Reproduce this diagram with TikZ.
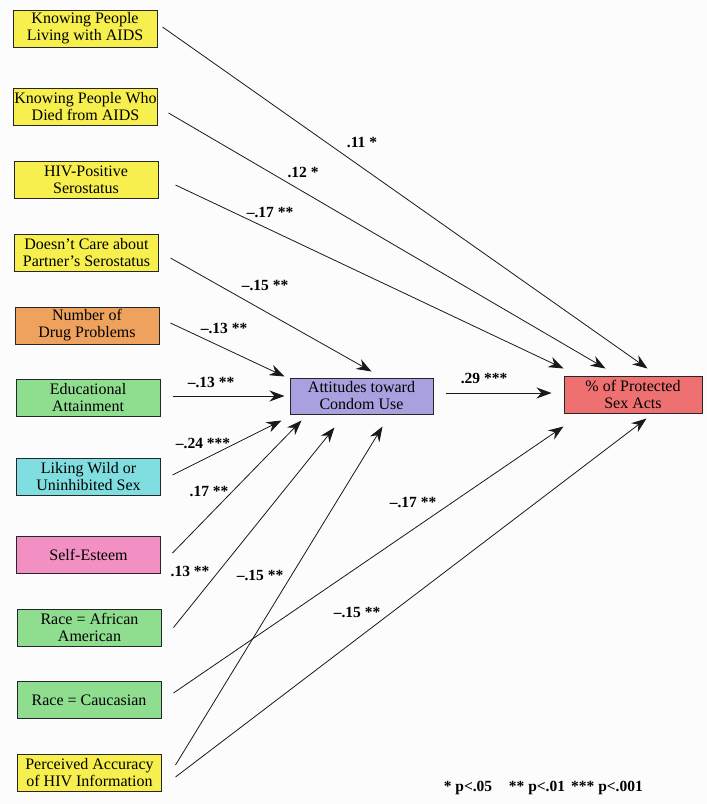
\documentclass[tikz,border=0pt]{standalone}
\usepackage{fontspec}
\setmainfont{Liberation Serif}
\usetikzlibrary{arrows.meta,calc}
\definecolor{cyel}{HTML}{F6EF4E}
\definecolor{cora}{HTML}{EFA25E}
\definecolor{cgrn}{HTML}{8FDE90}
\definecolor{ccya}{HTML}{80DEE0}
\definecolor{cpnk}{HTML}{F290C4}
\definecolor{clav}{HTML}{A9A0E0}
\definecolor{cred}{HTML}{EF7070}
\definecolor{cbg}{HTML}{FCFCFC}
\begin{document}
\begin{tikzpicture}[x=1pt,y=-1pt,
  box/.style={draw=black!85,line width=1pt,minimum width=144pt,minimum height=37pt,inner sep=0.5pt,align=center,font=\fontsize{16}{17}\selectfont},
  lab/.style={font=\fontsize{15.5}{17}\selectfont\bfseries,inner sep=0pt},
  arr/.style={line width=0.8pt,draw=black!90,-{Stealth[length=15pt,width=11pt]}},
]
\path[use as bounding box,fill=cbg] (0,0) rectangle (707,804);

% left boxes
\node[box,fill=cyel] (b1) at (85,28.5) {Knowing People\\Living with AIDS};
\node[box,fill=cyel] (b2) at (85.5,107) {Knowing People Who\\Died from AIDS};
\node[box,fill=cyel] (b3) at (86,180) {HIV-Positive\\Serostatus};
\node[box,fill=cyel] (b4) at (86.5,252.5) {Doesn’t Care about\\Partner’s Serostatus};
\node[box,fill=cora] (b5) at (87,325.5) {Number of\\Drug Problems};
\node[box,fill=cgrn] (b6) at (88,398) {Educational\\Attainment};
\node[box,fill=ccya] (b7) at (88.5,476.5) {Liking Wild or\\Uninhibited Sex};
\node[box,fill=cpnk] (b8) at (88.5,555) {Self-Esteem};
\node[box,fill=cgrn] (b9) at (89.5,627.5) {Race = African\\American};
\node[box,fill=cgrn] (b10) at (89,700) {Race = Caucasian};
\node[box,fill=cyel] (b11) at (89.5,772.5) {Perceived Accuracy\\of HIV Information};

% mediator and outcome
\node[box,fill=clav,minimum width=143pt,minimum height=36pt] (att) at (361.5,396) {Attitudes toward\\Condom Use};
\node[box,fill=cred,minimum width=138pt] (pp) at (633,394.5) {\% of Protected\\Sex Acts};

% connectors to outcome
\draw[arr] ($(b1.east)+(5,-1.5)$) -- ($(pp.north west)+(84,-7)$);
\draw[arr] ($(b2.east)+(10.5,6)$) -- ($(pp.north west)+(42,-7)$);
\draw[arr] ($(b3.east)+(17,5)$) -- ($(pp.north west)+(0,-7)$);
\draw[arr] ($(att.east)+(12,-3)$) -- ($(pp.west)+(-12,-1.5)$);
\draw[arr] ($(b10.east)+(12,-7)$) -- ($(pp.south west)+(0,13)$);
\draw[arr] ($(b11.east)+(13.5,4.5)$) -- ($(pp.south west)+(83,5)$);

% connectors to attitudes
\draw[arr] ($(b4.east)+(11.5,5.5)$) -- ($(att.north west)+(82,-6)$);
\draw[arr] ($(b5.east)+(11,-2.5)$) -- ($(att.north west)+(-5,-1)$);
\draw[arr] ($(b6.east)+(12,-2)$) -- ($(att.west)+(-5,0)$);
\draw[arr] ($(b7.east)+(11.5,-1.5)$) -- ($(att.south west)+(-8,6)$);
\draw[arr] ($(b8.east)+(11.5,-2)$) -- ($(att.south west)+(12,6)$);
\draw[arr] ($(b9.east)+(11.5,0)$) -- ($(att.south west)+(45,13)$);
\draw[arr] ($(b11.east)+(13.5,-7.5)$) -- ($(att.south west)+(93,12)$);

% coefficients
\node[lab] (l1) at (362,142) {.11 *};
\node[lab] (l2) at (303,172) {.12 *};
\node[lab] (l3) at (270,212) {--.17 **};
\node[lab] (l4) at (265,285) {--.15 **};
\node[lab] (l5) at (224,328) {--.13 **};
\node[lab] (l6) at (211,382) {--.13 **};
\node[lab] (l7) at (203,443) {--.24 ***};
\node[lab] (l8) at (209,491) {.17 **};
\node[lab] (l9) at (190,571) {.13 **};
\node[lab] (l10) at (260,575) {--.15 **};
\node[lab] (l11) at (413,502) {--.17 **};
\node[lab] (l12) at (357,612) {--.15 **};
\node[lab] (l13) at (484,378) {.29 ***};

% legend
\node[lab] (g1) at (468,788) {* p<.05};
\node[lab] (g2) at (537,788) {** p<.01};
\node[lab] (g3) at (607,788) {*** p<.001};
\end{tikzpicture}
\end{document}
